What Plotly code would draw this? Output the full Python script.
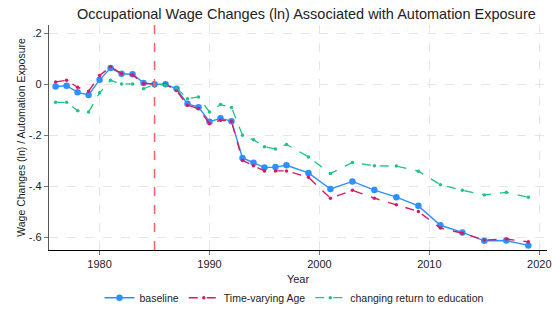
import plotly.graph_objects as go

years = [1976, 1977, 1978, 1979, 1980, 1981, 1982, 1983, 1984, 1985, 1986, 1987,
         1988, 1989, 1990, 1991, 1992, 1993, 1994, 1995, 1996, 1997, 1999, 2001,
         2003, 2005, 2007, 2009, 2011, 2013, 2015, 2017, 2019]

baseline = [-0.009, -0.006, -0.032, -0.042, 0.017, 0.063, 0.041, 0.039, 0.005, 0.0,
            0.0, -0.018, -0.077, -0.090, -0.147, -0.134, -0.145, -0.289, -0.308,
            -0.327, -0.325, -0.318, -0.348, -0.411, -0.381, -0.415, -0.443, -0.477,
            -0.553, -0.581, -0.614, -0.613, -0.632]

time_age = [0.009, 0.015, -0.012, -0.028, 0.034, 0.068, 0.041, 0.036, 0.003, 0.0,
            -0.001, -0.025, -0.083, -0.095, -0.155, -0.141, -0.146, -0.299, -0.320,
            -0.340, -0.340, -0.340, -0.365, -0.447, -0.416, -0.447, -0.473, -0.499,
            -0.564, -0.584, -0.611, -0.607, -0.618]

educ_return = [-0.071, -0.071, -0.104, -0.109, -0.034, 0.015, 0.001, 0.001, -0.018, 0.0,
               -0.004, -0.015, -0.057, -0.050, -0.109, -0.080, -0.091, -0.200, -0.218,
               -0.245, -0.254, -0.236, -0.285, -0.350, -0.307, -0.320, -0.321, -0.341,
               -0.394, -0.416, -0.434, -0.424, -0.443]

x_ticks = [1980, 1990, 2000, 2010, 2020]
y_ticks = [0.2, 0.0, -0.2, -0.4, -0.6]
y_tick_labels = [".2", "0", "-.2", "-.4", "-.6"]
event_year = 1985

FONT = "Liberation Sans, Arial, sans-serif"

fig = go.Figure()
fig.add_trace(go.Scatter(
    x=years, y=baseline, name="baseline", mode="lines+markers",
    line=dict(color="#2e8fff", width=1.4),
    marker=dict(color="#2e8fff", size=6.5, symbol="circle")))
fig.add_trace(go.Scatter(
    x=years, y=time_age, name="Time-varying Age", mode="lines+markers",
    line=dict(color="#d81b60", width=1.4, dash="dash"),
    marker=dict(color="#d81b60", size=3.5, symbol="circle")))
fig.add_trace(go.Scatter(
    x=years, y=educ_return, name="changing return to education", mode="lines+markers",
    line=dict(color="#1fc486", width=1.3, dash="dash"),
    marker=dict(color="#1fc486", size=3.5, symbol="circle")))

fig.add_vline(x=event_year, line=dict(color="#f26464", width=1.5, dash="dash"))

fig.update_layout(
    width=552, height=316,
    margin=dict(l=49, r=5, t=25, b=66, autoexpand=False),
    paper_bgcolor="white", plot_bgcolor="white",
    font=dict(family=FONT, color="#222222", size=11),
    title=dict(text="Occupational Wage Changes (ln) Associated with Automation Exposure",
               x=0.555, xanchor="center", y=0.955, yanchor="middle",
               font=dict(size=14.5, family=FONT, color="#222222")),
    showlegend=True,
    legend=dict(orientation="h", x=0.492, xanchor="center", y=-0.212, yanchor="middle",
                font=dict(size=10.5, family=FONT), itemwidth=30,
                bgcolor="rgba(0,0,0,0)"),
)

fig.update_xaxes(
    range=[1975.4, 2020.7], tickvals=x_ticks, automargin=False,
    showline=True, linecolor="black", linewidth=1.2, mirror=False,
    ticks="outside", ticklen=4, tickcolor="#777777",
    showgrid=True, gridcolor="#e6e6e6", griddash="dash", gridwidth=1,
    zeroline=False, tickfont=dict(size=11),
    title=dict(text="Year", font=dict(size=11), standoff=6))

fig.update_yaxes(
    range=[-0.65, 0.232], tickvals=y_ticks, ticktext=y_tick_labels, automargin=False,
    showline=True, linecolor="#555555", linewidth=1.2,
    ticks="outside", ticklen=4, tickcolor="#777777",
    showgrid=True, gridcolor="#e6e6e6", griddash="dash", gridwidth=1,
    zeroline=False, tickfont=dict(size=11),
    title=dict(text="Wage Changes (ln) / Automation Exposure", font=dict(size=10.5), standoff=1))

fig.write_html("out.html", config={"displayModeBar": False},
               post_script="document.body.style.margin='0';document.body.style.overflow='hidden';")
